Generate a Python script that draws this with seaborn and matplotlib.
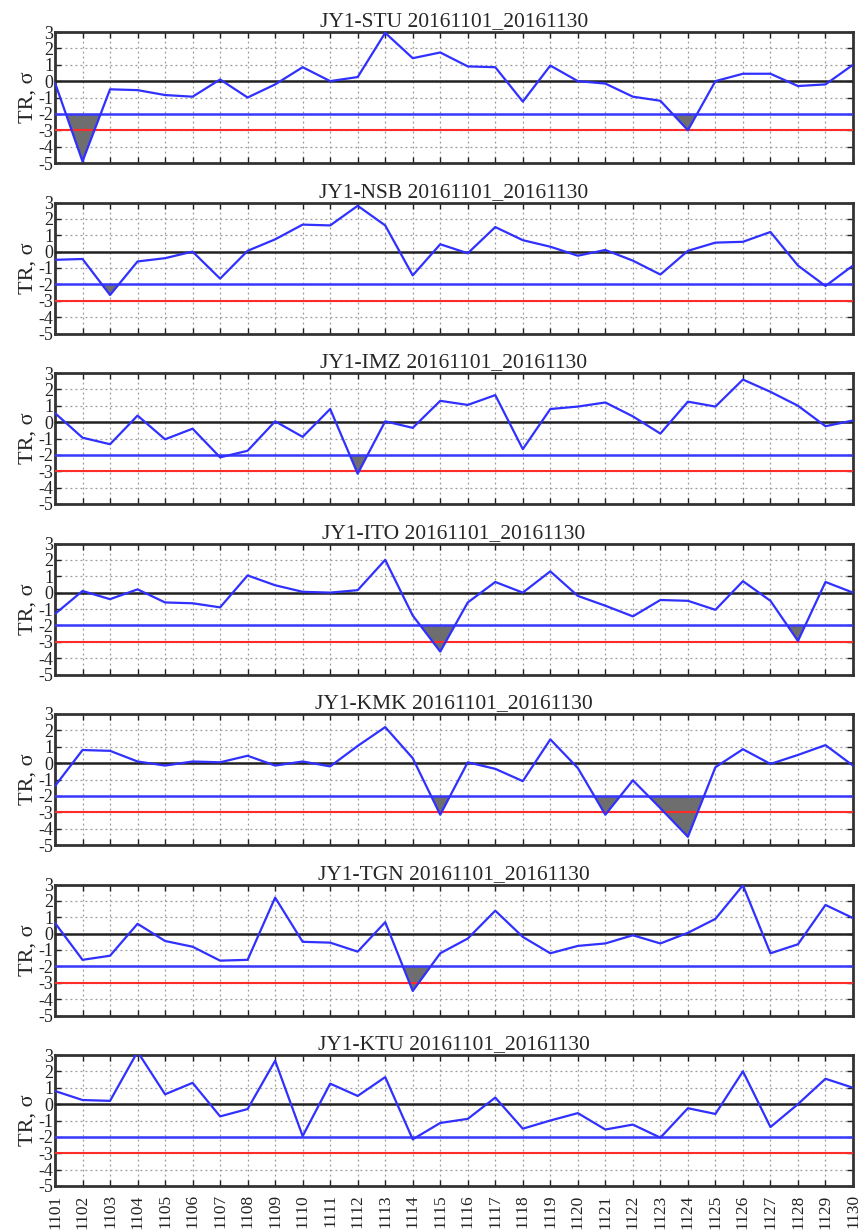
import numpy as np
import pandas as pd
import matplotlib
matplotlib.use("Agg")
import matplotlib.pyplot as plt
import seaborn as sns

days = ["1101", "1102", "1103", "1104", "1105", "1106", "1107", "1108", "1109", "1110",
        "1111", "1112", "1113", "1114", "1115", "1116", "1117", "1118", "1119", "1120",
        "1121", "1122", "1123", "1124", "1125", "1126", "1127", "1128", "1129", "1130"]

stations = ["JY1-STU", "JY1-NSB", "JY1-IMZ", "JY1-ITO", "JY1-KMK", "JY1-TGN", "JY1-KTU"]
period = "20161101_20161130"

stu = [-0.1, -4.9, -0.5, -0.55, -0.85, -0.95, 0.1, -1.0, -0.2, 0.85,
       0.0, 0.25, 2.95, 1.4, 1.75, 0.9, 0.85, -1.25, 0.95, 0.0,
       -0.15, -0.95, -1.2, -3.0, 0.0, 0.45, 0.45, -0.3, -0.2, 1.0]
nsb = [-0.5, -0.45, -2.65, -0.6, -0.4, 0.0, -1.65, 0.05, 0.75, 1.65,
       1.6, 2.8, 1.6, -1.45, 0.45, -0.1, 1.5, 0.7, 0.3, -0.25,
       0.1, -0.55, -1.4, 0.05, 0.55, 0.6, 1.2, -0.85, -2.1, -0.85]
imz = [0.55, -0.95, -1.35, 0.4, -1.05, -0.4, -2.15, -1.75, 0.05, -0.9,
       0.8, -3.15, 0.05, -0.35, 1.3, 1.05, 1.65, -1.65, 0.8, 0.95,
       1.2, 0.35, -0.7, 1.25, 0.95, 2.6, 1.85, 1.0, -0.25, 0.1]
ito = [-1.3, 0.1, -0.4, 0.2, -0.6, -0.65, -0.9, 1.05, 0.45, 0.05,
       0.0, 0.15, 2.0, -1.4, -3.6, -0.6, 0.65, 0.0, 1.3, -0.2,
       -0.8, -1.45, -0.45, -0.5, -1.05, 0.7, -0.5, -2.95, 0.65, 0.0]
kmk = [-1.4, 0.8, 0.75, 0.1, -0.15, 0.1, 0.05, 0.45, -0.15, 0.1,
       -0.2, 1.05, 2.2, 0.3, -3.15, 0.05, -0.35, -1.1, 1.45, -0.3,
       -3.15, -1.05, -2.75, -4.5, -0.25, 0.85, -0.05, 0.5, 1.1, -0.15]
tgn = [0.65, -1.6, -1.35, 0.6, -0.45, -0.8, -1.65, -1.6, 2.2, -0.5,
       -0.55, -1.1, 0.7, -3.5, -1.2, -0.3, 1.4, -0.2, -1.2, -0.75,
       -0.6, -0.1, -0.6, 0.05, 0.9, 2.95, -1.2, -0.65, 1.75, 0.95]
ktu = [0.8, 0.25, 0.2, 3.2, 0.6, 1.3, -0.75, -0.3, 2.65, -1.95,
       1.25, 0.5, 1.65, -2.15, -1.15, -0.9, 0.4, -1.5, -1.0, -0.55,
       -1.55, -1.25, -2.05, -0.25, -0.6, 2.0, -1.4, 0.0, 1.55, 1.0]

series = [stu, nsb, imz, ito, kmk, tgn, ktu]
ref_zero = 0
ref_warn = -2
ref_alarm = -3
yticks = [3, 2, 1, 0, -1, -2, -3, -4, -5]

sns.set_theme(style="white")
plt.rcParams['font.family'] = ['Liberation Serif', 'DejaVu Serif']

W, H = 861, 1230
fig = plt.figure(figsize=(W / 100, H / 100), dpi=100)
left_px, right_px = 55, 853
top0, step, height = 32, 170.5, 131

x = np.arange(len(days))
for i, (name, vals) in enumerate(zip(stations, series)):
    top = top0 + step * i
    ax = fig.add_axes([left_px / W, 1 - (top + height) / H,
                       (right_px - left_px) / W, height / H])
    df = pd.DataFrame({"x": x, "y": vals})
    v = np.array(vals, dtype=float)
    ax.fill_between(x, v, ref_warn, where=v < ref_warn, interpolate=True,
                    color="#6e6e6e", linewidth=0, zorder=2)
    ax.axhline(ref_zero, color="#222222", lw=1.8, zorder=3)
    ax.axhline(ref_warn, color="#3838ff", lw=1.8, zorder=3)
    ax.axhline(ref_alarm, color="#ff2a2a", lw=1.5, zorder=3)
    sns.lineplot(data=df, x="x", y="y", ax=ax, color="#3030ff", lw=1.6,
                 zorder=4, legend=False)
    ax.set_xlim(0, len(days) - 1)
    ax.set_ylim(-5, 3)
    ax.set_yticks(yticks)
    ax.set_yticklabels([str(t) for t in yticks], fontsize=13)
    ax.set_xticks(x)
    if i == len(stations) - 1:
        ax.set_xticklabels(days, rotation=90, fontsize=12.5)
    else:
        ax.set_xticklabels([])
    ax.grid(True, which="major", color="#9a9a9a", linestyle=(0, (1.5, 2.5)), lw=0.9)
    ax.set_axisbelow(True)
    ax.tick_params(direction="in", length=4, width=1, top=True, right=True,
                   bottom=True, left=True, pad=1, colors="#222222")
    ax.tick_params(axis="x", pad=6)
    for s in ax.spines.values():
        s.set_linewidth(2.0)
        s.set_color("#333333")
    ax.set_xlabel("")
    ax.set_ylabel("TR, σ", fontsize=16, labelpad=1)
    ax.set_title(f"{name} {period}", fontsize=15.5, pad=4)

fig.savefig("out.png", dpi=100)
